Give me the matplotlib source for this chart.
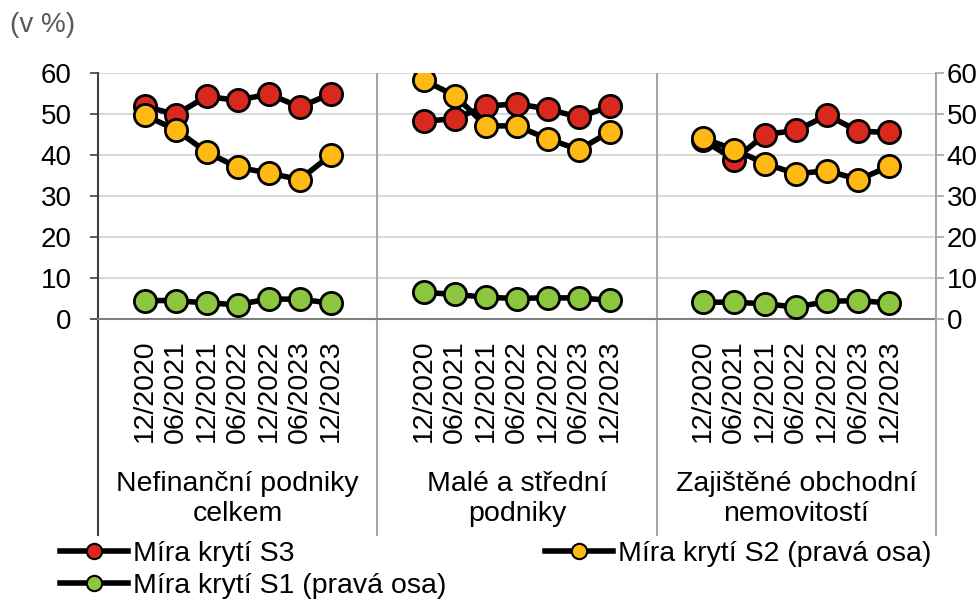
import matplotlib
matplotlib.use('Agg')
import matplotlib.pyplot as plt
import matplotlib.transforms as mtransforms
from matplotlib.lines import Line2D

plt.rcParams['font.family'] = ['Liberation Sans', 'DejaVu Sans']

# data (v %)
dates = ['12/2020', '06/2021', '12/2021', '06/2022', '12/2022', '06/2023', '12/2023']
groups = ['Nefinanční podniky\ncelkem', 'Malé a střední\npodniky', 'Zajištěné obchodní\nnemovitostí']

# Míra krytí S3 (levá osa), one block of 7 values per group
s3 = [52.0, 49.8, 54.3, 53.3, 54.9, 51.7, 54.9,
      48.2, 48.9, 51.9, 52.5, 51.2, 49.2, 51.9,
      43.6, 38.9, 45.0, 46.0, 49.7, 45.8, 45.5]
# Míra krytí S2 (pravá osa)
s2 = [49.7, 46.2, 40.7, 37.0, 35.6, 34.0, 40.0,
      58.2, 54.5, 47.1, 47.1, 43.9, 41.3, 45.7,
      44.1, 41.3, 37.9, 35.4, 36.2, 34.0, 37.2]
# Míra krytí S1 (pravá osa)
s1 = [4.5, 4.5, 3.9, 3.5, 4.9, 4.8, 3.9,
      6.5, 6.0, 5.3, 5.0, 5.2, 5.1, 4.6,
      4.1, 4.1, 3.7, 2.9, 4.3, 4.5, 3.9]

labels = ['Míra krytí S3', 'Míra krytí S2 (pravá osa)', 'Míra krytí S1 (pravá osa)']
colors = ['#d9281e', '#ffb914', '#8cc63f']

n = len(dates)
slot = n + 2  # one empty category each side of a group

fig = plt.figure(figsize=(9.79, 6.06), dpi=100)
ax = fig.add_axes([98 / 979, 1 - 319 / 606, (936 - 98) / 979, (319 - 73) / 606])
ax2 = ax.twinx()

xlabels = []
for g in range(len(groups)):
    xlabels += [''] + dates + ['']
xpos = list(range(len(xlabels)))


def draw(axis, values, color):
    for g in range(len(groups)):
        xs = [g * slot + 1 + i for i in range(n)]
        ys = values[g * n:(g + 1) * n]
        axis.plot(xs, ys, color='black', lw=4, marker='o', ms=16,
                  mfc=color, mec='black', mew=2, zorder=3)


draw(ax, s3, colors[0])
draw(ax2, s2, colors[1])
draw(ax2, s1, colors[2])

for a in (ax, ax2):
    a.set_ylim(0, 60)
    a.set_yticks(range(0, 61, 10))
    for s in ('top', 'bottom', 'left', 'right'):
        a.spines[s].set_visible(False)
ax.set_xlim(-0.5, len(xlabels) - 0.5)

ax.grid(axis='y', color='#d9d9d9', lw=1.5)
ax.set_axisbelow(True)
ax.spines['left'].set_visible(True)
ax.spines['left'].set_color('#404040')
ax.spines['left'].set_linewidth(1.5)
ax.spines['bottom'].set_visible(True)
ax.spines['bottom'].set_color('#7f7f7f')
ax.spines['bottom'].set_linewidth(1.5)
ax2.spines['right'].set_visible(True)
ax2.spines['right'].set_color('#a6a6a6')
ax2.spines['right'].set_linewidth(1.5)

ax.tick_params(axis='y', length=6, width=1.2, color='#404040', pad=13, labelsize=20)
ax2.tick_params(axis='y', length=6, width=1.2, color='#a6a6a6', pad=1.5, labelsize=20)
ax.set_xticks(xpos)
ax.set_xticklabels(xlabels, rotation=90, fontsize=20.5)
ax.tick_params(axis='x', length=0, pad=15)

# category separators running down through the labels
trans = mtransforms.blended_transform_factory(ax.transData, ax.transAxes)
bottom = (319 - 535) / 246
for k in range(len(groups) + 1):
    x = k * slot - 0.5
    c = '#404040' if k == 0 else '#a6a6a6'
    ax.plot([x, x], [0, bottom], transform=trans, color=c, lw=1.5, clip_on=False)
    if 0 < k < len(groups):
        ax.plot([x, x], [0, 1], transform=trans, color=c, lw=1.5, zorder=1)

for g, name in enumerate(groups):
    ax.text(g * slot + slot / 2 - 0.5, (319 - 499) / 246, name, transform=trans,
            ha='center', va='center', fontsize=20.5, linespacing=1.2)

fig.text(10 / 979, 1 - 25 / 606, '(v %)', color='#595959', fontsize=20, va='center')

handles = [Line2D([], [], color='black', lw=4, marker='o', ms=11, mfc=c,
                  mec='black', mew=1.5) for c in colors]
leg_kw = dict(loc='upper left', frameon=False, borderpad=0, borderaxespad=0,
              handlelength=2.4, handletextpad=0.15, labelspacing=0.2, fontsize=20.5)
fig.legend([handles[0], handles[2]], [labels[0], labels[2]],
           bbox_to_anchor=(60 / 979, 1 - 541 / 606), **leg_kw)
fig.legend([handles[1]], [labels[1]],
           bbox_to_anchor=(545 / 979, 1 - 541 / 606), **leg_kw)

fig.savefig('out.png', dpi=100)
